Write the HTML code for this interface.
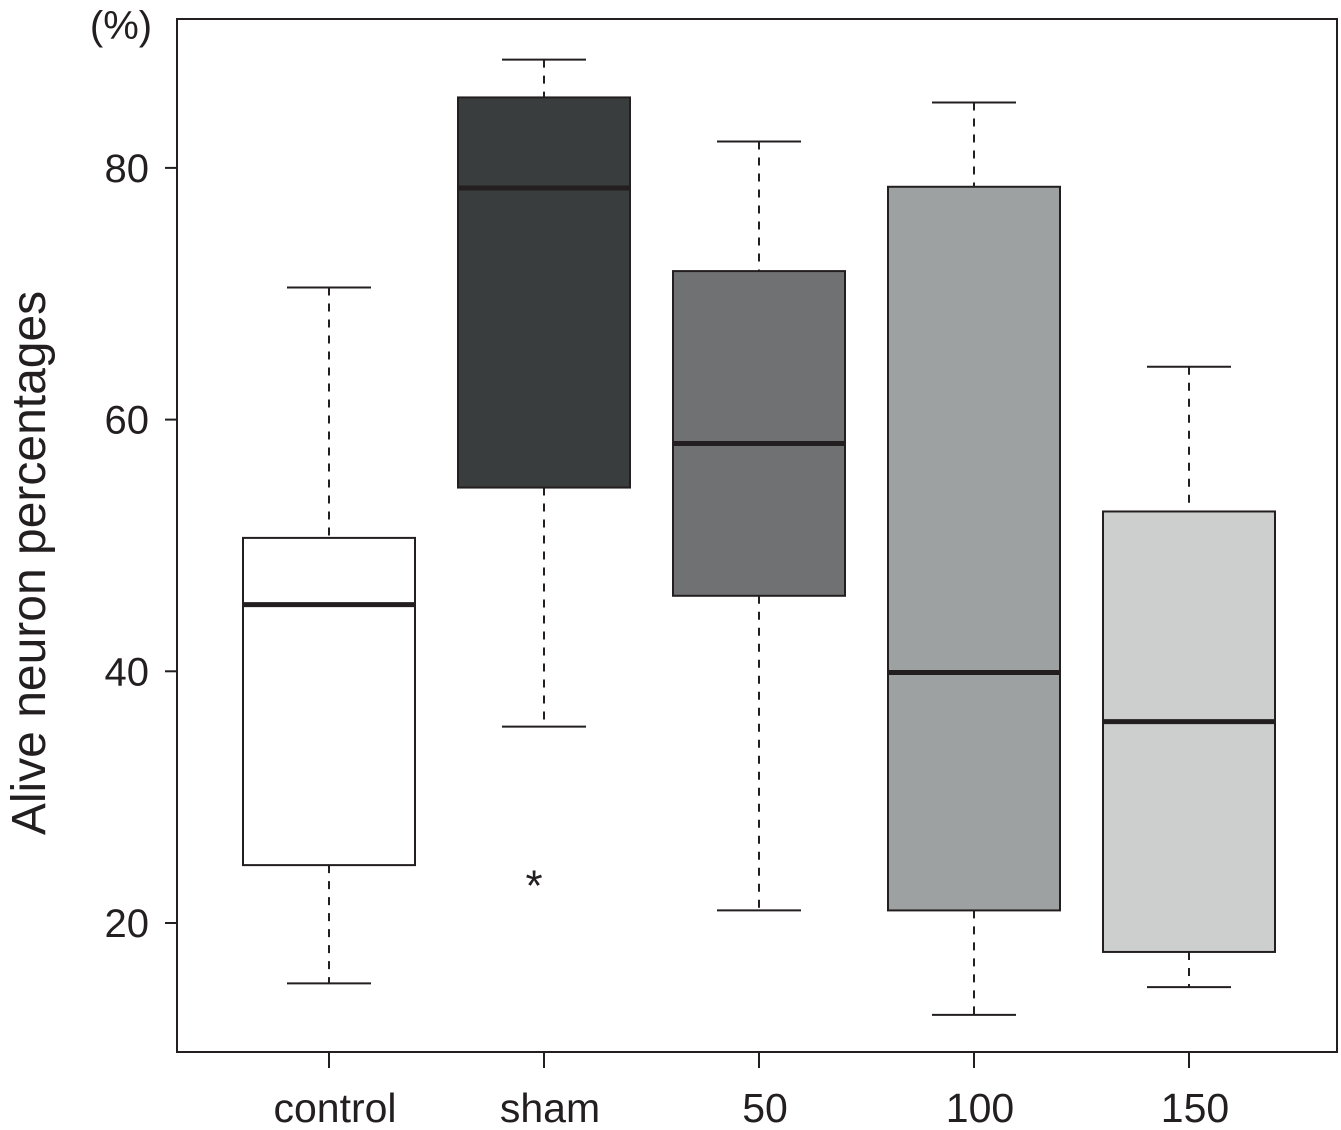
<!DOCTYPE html>
<html><head><meta charset="utf-8"><style>
html,body{margin:0;padding:0;background:#fff;}
svg{display:block;font-family:"Liberation Sans",Arial,sans-serif;}
</style></head><body>
<svg id="chart" width="1341" height="1130" viewBox="0 0 1341 1130" xmlns="http://www.w3.org/2000/svg">
<text x="121" y="39" font-size="40" text-anchor="middle" fill="#231f20">(%)</text>
<text transform="translate(45,563) rotate(-90)" font-size="48" text-anchor="middle" fill="#231f20">Alive neuron percentages</text>
<rect x="177" y="19" width="1160" height="1033" fill="none" stroke="#231f20" stroke-width="2"/>
<g id="marks"></g>
</svg>
<script>
const categories = ["control","sham","50","100","150"];
const whiskerHigh = [70.5, 88.6, 82.1, 85.2, 64.2];
const q3Values = [50.6, 85.6, 71.8, 78.5, 52.7];
const medians = [45.3, 78.4, 58.1, 39.9, 36.0];
const q1Values = [24.6, 54.6, 46.0, 21.0, 17.7];
const whiskerLow = [15.2, 35.6, 21.0, 12.7, 14.9];
const outliers = [[], [23.7], [], [], []];
const yTicks = [20, 40, 60, 80];
const fills = ["#ffffff","#3a3d3e","#707173","#9da1a1","#cdcfce"];

const NS = "http://www.w3.org/2000/svg";
const g = document.getElementById("marks");
function yScale(v){ return 923 - (v - 20) * 12.585; }
function xScale(i){ return 329 + i * 215; }
function mk(tag, attrs){ const e = document.createElementNS(NS, tag); for (const k in attrs) e.setAttribute(k, attrs[k]); g.appendChild(e); return e; }
const ink = "#231f20";

yTicks.forEach(t => {
  const y = yScale(t);
  const tk = mk("line", {x1:165, x2:177, y1:y, y2:y, stroke:ink, "stroke-width":2});
  
  
  const lb = mk("text", {x:149, y:y+14, "font-size":40, "text-anchor":"end", fill:ink});
  lb.textContent = t;
  
  
});

categories.forEach((c, i) => {
  const cx = xScale(i), hw = 86, cw = 42;
  const tk = mk("line", {x1:cx, x2:cx, y1:1052, y2:1068, stroke:ink, "stroke-width":2});
  
  
  const lb = mk("text", {x:cx+6, y:1122, "font-size":41, "text-anchor":"middle", fill:ink});
  lb.textContent = c;
  
  

  const wu = mk("line", {x1:cx, x2:cx, y1:yScale(whiskerHigh[i]), y2:yScale(q3Values[i]), stroke:ink, "stroke-width":2, "stroke-dasharray":"8,8"});
  
  
  const wl = mk("line", {x1:cx, x2:cx, y1:yScale(q1Values[i]), y2:yScale(whiskerLow[i]), stroke:ink, "stroke-width":2, "stroke-dasharray":"8,8"});
  
  
  const cu = mk("line", {x1:cx-cw, x2:cx+cw, y1:yScale(whiskerHigh[i]), y2:yScale(whiskerHigh[i]), stroke:ink, "stroke-width":2});
  
  
  const cl = mk("line", {x1:cx-cw, x2:cx+cw, y1:yScale(whiskerLow[i]), y2:yScale(whiskerLow[i]), stroke:ink, "stroke-width":2});
  
  

  const bx = mk("rect", {x:cx-hw, y:yScale(q3Values[i]), width:2*hw, height:yScale(q1Values[i])-yScale(q3Values[i]), fill:fills[i], stroke:ink, "stroke-width":2});
  
  
  const md = mk("line", {x1:cx-hw, x2:cx+hw, y1:yScale(medians[i]), y2:yScale(medians[i]), stroke:ink, "stroke-width":5});
  
  

  outliers[i].forEach(v => {
    const o = mk("text", {x:cx-10, y:yScale(v)+24, "font-size":44, "text-anchor":"middle", fill:ink});
    o.textContent = "*";
    
    
  });
});
</script>
</body></html>
